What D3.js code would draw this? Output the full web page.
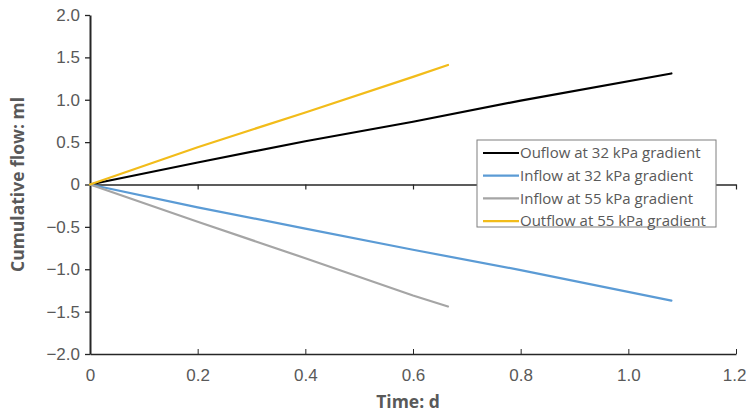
<!DOCTYPE html>
<html>
<head>
<meta charset="utf-8">
<script src="https://cdn.jsdelivr.net/npm/d3@7"></script>
<style>
  html, body { margin: 0; padding: 0; background: #fff; }
  svg { display: block; font-family: "Open Sans", "Liberation Sans", sans-serif; }
</style>
</head>
<body>
<svg id="chart" width="746" height="414"></svg>
<script>
// Series: cumulative flow (ml) against time (d)
const seriesNames = [
  "Ouflow at 32 kPa gradient",
  "Inflow at 32 kPa gradient",
  "Inflow at 55 kPa gradient",
  "Outflow at 55 kPa gradient"
];
const seriesColors = ["#000000", "#5b9bd5", "#a5a5a5", "#f2bc1a"];

const timeOut32 = [0, 0.2, 0.4, 0.6, 0.8, 1.08];
const flowOut32 = [0, 0.26, 0.51, 0.74, 0.99, 1.31];

const timeIn32 = [0, 0.2, 0.4, 0.6, 0.8, 1.08];
const flowIn32 = [0, -0.27, -0.52, -0.77, -1.01, -1.37];

const timeIn55 = [0, 0.2, 0.4, 0.6, 0.665];
const flowIn55 = [0, -0.44, -0.87, -1.31, -1.44];

const timeOut55 = [0, 0.2, 0.4, 0.6, 0.665];
const flowOut55 = [0, 0.44, 0.85, 1.27, 1.41];

const xTicks = [0, 0.2, 0.4, 0.6, 0.8, 1.0, 1.2];
const xTickLabels = ["0", "0.2", "0.4", "0.6", "0.8", "1.0", "1.2"];
const yTicks = [2.0, 1.5, 1.0, 0.5, 0, -0.5, -1.0, -1.5, -2.0];
const yTickLabels = ["2.0", "1.5", "1.0", "0.5", "0", "\u22120.5", "\u22121.0", "\u22121.5", "\u22122.0"];

const series = [
  { t: timeOut32, v: flowOut32 },
  { t: timeIn32, v: flowIn32 },
  { t: timeIn55, v: flowIn55 },
  { t: timeOut55, v: flowOut55 }
].map((s, i) => ({
  name: seriesNames[i],
  color: seriesColors[i],
  points: s.t.map((t, j) => [t, s.v[j]])
}));

const svg = d3.select("#chart");
const plot = { left: 90, right: 736, top: 15, bottom: 354 };

const x = d3.scaleLinear().domain([0, 1.2]).range([plot.left, plot.right]);
const y = d3.scaleLinear().domain([-2, 2]).range([plot.bottom, plot.top]);

const textColor = "#595959";
const axisColor = "#262626";
const tickFont = 17;

// Bottom frame line at y = -2 with upward ticks
const bottomAxis = svg.append("g")
  .attr("transform", `translate(0,${y(-2)})`)
  .call(d3.axisBottom(x).tickValues(xTicks).tickSizeInner(-5).tickSizeOuter(0)
    .tickFormat((d, i) => xTickLabels[i]));
bottomAxis.select(".domain").attr("stroke", axisColor).attr("stroke-width", 1.3);
bottomAxis.selectAll(".tick line").attr("stroke", axisColor).attr("stroke-width", 1);
bottomAxis.selectAll(".tick text")
  .attr("y", 15).attr("dy", "0.71em")
  .attr("fill", textColor).attr("font-size", tickFont);
// keep the last label inside the canvas
bottomAxis.selectAll(".tick text").filter(d => d === 1.2)
  .attr("text-anchor", "end").attr("x", 10);
bottomAxis.selectAll(".tick").filter(d => d === 0).select("line").remove();

// Horizontal axis line crossing at zero
const zeroAxis = svg.append("g")
  .attr("transform", `translate(0,${y(0)})`)
  .call(d3.axisBottom(x).tickValues(xTicks).tickSize(5).tickSizeOuter(0).tickFormat(""));
zeroAxis.select(".domain").attr("stroke", axisColor).attr("stroke-width", 1.5);
zeroAxis.selectAll(".tick line").attr("stroke", axisColor).attr("stroke-width", 1.2);
zeroAxis.selectAll(".tick").filter(d => d === 0).select("line").remove();

// Vertical axis
const leftAxis = svg.append("g")
  .attr("transform", `translate(${plot.left},0)`)
  .call(d3.axisLeft(y).tickValues(yTicks).tickSize(5).tickSizeOuter(0)
    .tickFormat((d, i) => yTickLabels[i]));
leftAxis.select(".domain").attr("stroke", axisColor).attr("stroke-width", 2);
leftAxis.selectAll(".tick line").attr("stroke", axisColor).attr("stroke-width", 1.3);
leftAxis.selectAll(".tick text")
  .attr("x", -10)
  .attr("fill", textColor).attr("font-size", tickFont);

// Data lines
const line = d3.line().x(d => x(d[0])).y(d => y(d[1]));
svg.append("g").selectAll("path")
  .data(series)
  .join("path")
  .attr("d", d => line(d.points))
  .attr("fill", "none")
  .attr("stroke", d => d.color)
  .attr("stroke-width", 2.2)
  .attr("stroke-linejoin", "round")
  .attr("stroke-linecap", "round");

// Axis titles
svg.append("text")
  .attr("x", x(0.6) - 5).attr("y", 408)
  .attr("text-anchor", "middle")
  .attr("font-size", 17.5).attr("font-weight", "bold")
  .attr("fill", textColor)
  .text("Time: d");

svg.append("text")
  .attr("transform", `translate(24,${y(0)}) rotate(-90)`)
  .attr("text-anchor", "middle")
  .attr("font-size", 17.5).attr("font-weight", "bold")
  .attr("fill", textColor)
  .text("Cumulative flow: ml");

// Legend
const legend = svg.append("g").attr("transform", "translate(477,140)");
legend.append("rect")
  .attr("width", 239).attr("height", 87)
  .attr("fill", "#fff").attr("stroke", "#7f7f7f").attr("stroke-width", 1);
const item = legend.selectAll("g.item")
  .data(series)
  .join("g")
  .attr("class", "item")
  .attr("transform", (d, i) => `translate(0,${13 + i * 22.7})`);
item.append("line")
  .attr("x1", 6).attr("x2", 42)
  .attr("stroke", d => d.color).attr("stroke-width", 2.2);
item.append("text")
  .attr("x", 43).attr("dy", "0.35em")
  .attr("font-size", 15).attr("fill", textColor)
  .text(d => d.name);
</script>
</body>
</html>
